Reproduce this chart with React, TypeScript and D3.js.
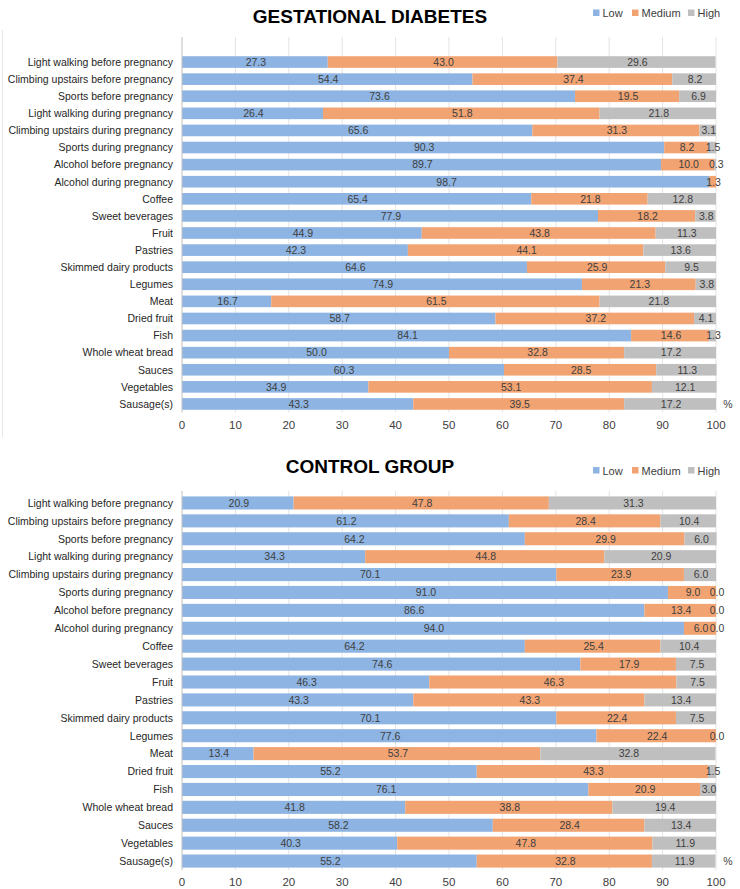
import React from 'react'
import * as d3 from 'd3'

// categories (top to bottom)
const categories = [
  'Light walking before pregnancy',
  'Climbing upstairs before pregnancy',
  'Sports before pregnancy',
  'Light walking during pregnancy',
  'Climbing upstairs during pregnancy',
  'Sports during pregnancy',
  'Alcohol before pregnancy',
  'Alcohol during pregnancy',
  'Coffee',
  'Sweet beverages',
  'Fruit',
  'Pastries',
  'Skimmed dairy products',
  'Legumes',
  'Meat',
  'Dried fruit',
  'Fish',
  'Whole wheat bread',
  'Sauces',
  'Vegetables',
  'Sausage(s)'
]

const seriesNames = ['Low', 'Medium', 'High']
const colors = ['#8DB4E2', '#F2A372', '#BFBFBF']
const xTicks = [0, 10, 20, 30, 40, 50, 60, 70, 80, 90, 100]

// gestational diabetes
const gdLow = [27.3, 54.4, 73.6, 26.4, 65.6, 90.3, 89.7, 98.7, 65.4, 77.9, 44.9, 42.3, 64.6, 74.9, 16.7, 58.7, 84.1, 50.0, 60.3, 34.9, 43.3]
const gdMedium = [43.0, 37.4, 19.5, 51.8, 31.3, 8.2, 10.0, 1.3, 21.8, 18.2, 43.8, 44.1, 25.9, 21.3, 61.5, 37.2, 14.6, 32.8, 28.5, 53.1, 39.5]
const gdHigh = [29.6, 8.2, 6.9, 21.8, 3.1, 1.5, 0.3, null, 12.8, 3.8, 11.3, 13.6, 9.5, 3.8, 21.8, 4.1, 1.3, 17.2, 11.3, 12.1, 17.2]

// control group
const cgLow = [20.9, 61.2, 64.2, 34.3, 70.1, 91.0, 86.6, 94.0, 64.2, 74.6, 46.3, 43.3, 70.1, 77.6, 13.4, 55.2, 76.1, 41.8, 58.2, 40.3, 55.2]
const cgMedium = [47.8, 28.4, 29.9, 44.8, 23.9, 9.0, 13.4, 6.0, 25.4, 17.9, 46.3, 43.3, 22.4, 22.4, 53.7, 43.3, 20.9, 38.8, 28.4, 47.8, 32.8]
const cgHigh = [31.3, 10.4, 6.0, 20.9, 6.0, 0.0, 0.0, 0.0, 10.4, 7.5, 7.5, 13.4, 7.5, 0.0, 32.8, 1.5, 3.0, 19.4, 13.4, 11.9, 11.9]

const font = '"Liberation Sans", Arial, sans-serif'

type PanelProps = {
  title: string
  titleY: number
  legendY: number
  gridTop: number
  bandTop: number
  bandBottom: number
  tickY: number
  pad: number
  series: (number | null)[][]
}

function Panel(props: PanelProps) {
  const { title, titleY, legendY, gridTop, bandTop, bandBottom, tickY, pad, series } = props
  const x = d3.scaleLinear().domain([0, 100]).range([182, 716])
  const y = d3
    .scaleBand()
    .domain(categories)
    .range([bandTop, bandBottom])
    .paddingInner(pad)
    .paddingOuter(pad / 2)

  const rows = categories.map((c, i) => {
    let acc = 0
    return series.map((s, k) => {
      const v = s[i]
      const start = acc
      acc += v || 0
      return { c, k, v, start, end: acc }
    })
  })

  // legend
  const legendX = [593, 632, 688]

  return (
    <g>
      <text
        x={370}
        y={titleY}
        textAnchor="middle"
        fontFamily={font}
        fontWeight="bold"
        fontSize={19}
        fill="#000"
      >
        {title}
      </text>
      {seriesNames.map((n, k) => (
        <g key={n}>
          <rect x={legendX[k]} y={legendY - 3.5} width={6.5} height={6.5} fill={colors[k]} />
          <text x={legendX[k] + 9.5} y={legendY + 4} fontFamily={font} fontSize={11} fill="#404040">
            {n}
          </text>
        </g>
      ))}
      {/* gridlines */}
      {xTicks.slice(1).map((t) => (
        <line key={t} x1={x(t)} x2={x(t)} y1={gridTop} y2={bandBottom} stroke="#e3e3e3" strokeWidth={1} />
      ))}
      {/* bars */}
      {rows.map((r) =>
        r.map((seg) =>
          seg.v ? (
            <rect
              key={seg.c + seg.k}
              x={x(seg.start)}
              y={y(seg.c)}
              width={x(seg.end) - x(seg.start)}
              height={y.bandwidth()}
              fill={colors[seg.k]}
            />
          ) : null
        )
      )}
      {/* value labels */}
      {rows.map((r) =>
        r.map((seg) =>
          seg.v !== null && seg.v !== undefined ? (
            <text
              key={'t' + seg.c + seg.k}
              x={x((seg.start + seg.end) / 2) + 1}
              y={(y(seg.c) as number) + y.bandwidth() / 2 + 3.8}
              textAnchor="middle"
              fontFamily={font}
              fontSize={10.5}
              fill="#404040"
            >
              {seg.v.toFixed(1)}
            </text>
          ) : null
        )
      )}
      {/* left axis */}
      <line x1={182} x2={182} y1={gridTop} y2={bandBottom} stroke="#bfbfbf" />
      {categories.map((c) => (
        <text
          key={c}
          x={173}
          y={(y(c) as number) + y.bandwidth() / 2 + 3.8}
          textAnchor="end"
          fontFamily={font}
          fontSize={10.5}
          fill="#262626"
        >
          {c}
        </text>
      ))}
      {xTicks.map((t) => (
        <text
          key={t}
          x={x(t)}
          y={tickY}
          textAnchor="middle"
          fontFamily={font}
          fontSize={11.5}
          fill="#404040"
        >
          {t}
        </text>
      ))}
      <text
        x={728}
        y={(y(categories[categories.length - 1]) as number) + y.bandwidth() / 2 + 4}
        textAnchor="middle"
        fontFamily={font}
        fontSize={10.5}
        fill="#404040"
      >
        %
      </text>
    </g>
  )
}

export default function App() {
  return (
    <svg
      width={740}
      height={889}
      style={{ position: 'absolute', left: 0, top: 0, background: '#fff' }}
    >
      <rect width={740} height={889} fill="#fff" />
      <line x1={2.5} x2={2.5} y1={30} y2={437} stroke="#e6e6e6" />
      <Panel
        title="GESTATIONAL DIABETES"
        titleY={23}
        legendY={13}
        gridTop={37}
        bandTop={53.5}
        bandBottom={412.5}
        tickY={429}
        pad={0.32}
        series={[gdLow, gdMedium, gdHigh]}
      />
      <Panel
        title="CONTROL GROUP"
        titleY={473}
        legendY={470.5}
        gridTop={491}
        bandTop={494}
        bandBottom={870}
        tickY={886}
        pad={0.27}
        series={[cgLow, cgMedium, cgHigh]}
      />
    </svg>
  )
}
